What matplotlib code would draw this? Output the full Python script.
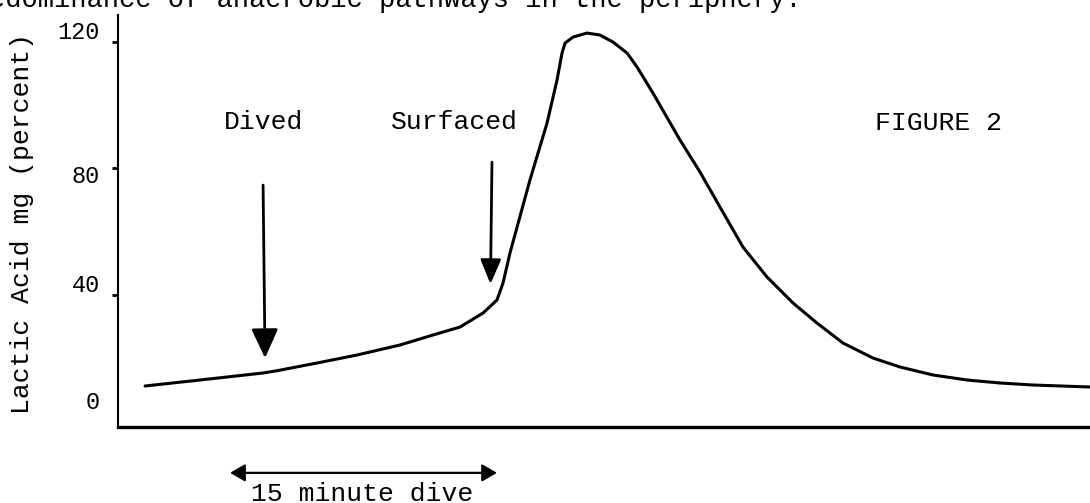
import matplotlib
matplotlib.use('Agg')
import matplotlib.pyplot as plt
from matplotlib.transforms import ScaledTranslation

plt.rcParams['font.family'] = ['Liberation Mono', 'DejaVu Sans Mono']

# time in minutes from the start of the dive, lactic acid in percent
time = [-7.93, -4.30, -0.13, 0.79, 3.44, 6.08, 8.92, 11.10, 12.89, 14.41, 15.33,
        15.73, 16.19, 16.66, 17.51, 18.64, 19.30, 19.63, 19.83, 20.36, 21.28, 22.14,
        23.00, 23.93, 24.59, 25.64, 27.43, 28.75, 30.07, 31.59, 33.18, 34.90, 36.48,
        38.20, 40.18, 41.97, 44.15, 46.40, 48.58, 50.76, 54.53]
lactic = [11.07, 12.96, 15.18, 15.90, 18.34, 20.87, 24.03, 27.19, 29.72, 34.15, 38.26,
          43.64, 53.12, 61.34, 76.21, 94.23, 107.83, 116.36, 119.53, 121.42, 122.69, 122.06,
          119.84, 116.36, 111.94, 103.72, 88.85, 78.74, 67.67, 55.02, 45.53, 37.31, 30.99,
          24.66, 19.92, 17.08, 14.55, 12.96, 12.02, 11.38, 10.75]

y_ticks = [0, 40, 80, 120]
y_tick_labels = ['0', '40', '80', '120']
dive_start = 0
dive_end = 15
dive_length = '15 minute dive'

fig = plt.figure(figsize=(10.9, 5.03), dpi=100)
ax = fig.add_axes([118 / 1090, 76 / 503, 972 / 1090, 412 / 503])

ax.plot(time, lactic, color='black', lw=2.2, solid_capstyle='round', solid_joinstyle='round')

ax.set_xlim(-9.72, 54.53)
ax.set_ylim(-1.9, 128.4)

ax.spines['top'].set_visible(False)
ax.spines['right'].set_visible(False)
ax.spines['left'].set_linewidth(1.5)
ax.spines['bottom'].set_linewidth(2.4)
ax.set_xticks([])
ax.set_yticks(y_ticks)
ax.set_yticklabels(y_tick_labels)
ax.tick_params(axis='y', length=4, width=2, pad=9, labelsize=17)
ax.yaxis.get_major_ticks()[0].tick1line.set_visible(False)
# the typed labels do not sit exactly on the ticks
for lbl, dy in zip(ax.get_yticklabels(), [15, 8, -4, 8]):
    lbl.set_transform(lbl.get_transform() + ScaledTranslation(0, dy / 72, fig.dpi_scale_trans))

# arrows for dive and surfacing
ax.annotate('', xy=(dive_start, 19.9), xytext=(dive_start - 0.13, 74.6),
            arrowprops=dict(arrowstyle='-|>,head_length=1.2,head_width=0.55',
                            mutation_scale=15, lw=2, color='black', shrinkA=0, shrinkB=0))
ax.annotate('', xy=(dive_end - 0.1, 43.3), xytext=(dive_end, 81.9),
            arrowprops=dict(arrowstyle='-|>,head_length=1.0,head_width=0.42',
                            mutation_scale=15, lw=2, color='black', shrinkA=0, shrinkB=0))

ax.text(dive_start - 0.13, 94.5, 'Dived', ha='center', va='center', fontsize=19)
ax.text(12.5, 94.5, 'Surfaced', ha='center', va='center', fontsize=19)
ax.text(44.5, 94.2, 'FIGURE 2', ha='center', va='center', fontsize=19)

# duration bracket under the axis
ax.annotate('', xy=(-2.31, -16.4), xytext=(15.33, -16.4), annotation_clip=False,
            arrowprops=dict(arrowstyle='<|-|>,head_length=0.6,head_width=0.35',
                            mutation_scale=15, lw=1.6, color='black', shrinkA=0, shrinkB=0))
ax.text(6.41, -25.3, dive_length, ha='center', va='baseline', fontsize=19, clip_on=False)

fig.text(22 / 1090, 1 - 223 / 503, 'Lactic Acid mg (percent)', rotation=90,
         ha='center', va='center', fontsize=19)

# bottom of the line of text above the figure on the page
fig.text(-11 / 1090, 1 - 7 / 503, 'edominance of anaerobic pathways in the periphery.',
         ha='left', va='baseline', fontsize=19.5)

fig.savefig('out.png', dpi=100)
